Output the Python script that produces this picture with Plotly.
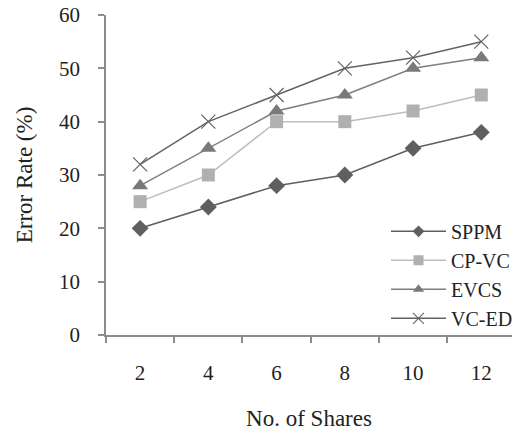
import plotly.graph_objects as go

shares = ["2", "4", "6", "8", "10", "12"]
sppm = [20, 24, 28, 30, 35, 38]
cpvc = [25, 30, 40, 40, 42, 45]
evcs = [28, 35, 42, 45, 50, 52]
vced = [32, 40, 45, 50, 52, 55]
y_ticks = [0, 10, 20, 30, 40, 50, 60]

FONT = "Liberation Serif, Times New Roman, serif"

series = [
    ("SPPM", sppm, "#5f5f5f", "#5f5f5f", "diamond", 13, 9),
    ("CP-VC", cpvc, "#bdbdbd", "#b0b0b0", "square", 13, 10),
    ("EVCS", evcs, "#7f7f7f", "#7a7a7a", "triangle-up", 14, 10),
    ("VC-ED", vced, "#636363", "#636363", "x-thin-open", 14, 11),
]

fig = go.Figure()
for name, vals, lc, mc, sym, size, lsize in series:
    mk = dict(symbol=sym, size=size, color=mc)
    lmk = dict(symbol=sym, size=lsize, color=mc)
    if sym == "x-thin-open":
        mk["line"] = dict(color=mc, width=1.2)
        lmk["line"] = dict(color=mc, width=1.1)
    fig.add_trace(go.Scatter(x=shares, y=vals, name=name, mode="lines+markers",
                             legendgroup=name, showlegend=False,
                             line=dict(color=lc, width=1.5), marker=mk))
    # legend entry with smaller symbol
    fig.add_trace(go.Scatter(x=[None], y=[None], name=name, mode="lines+markers",
                             legendgroup=name, showlegend=True,
                             line=dict(color=lc, width=1.5), marker=lmk))

fig.update_layout(
    width=518, height=431,
    margin=dict(l=106, r=0, t=15, b=96),
    paper_bgcolor="white", plot_bgcolor="white",
    font=dict(family=FONT, size=21, color="#222222"),
    showlegend=True,
    legend=dict(x=0.69, y=0.385, xanchor="left", yanchor="top",
                bgcolor="rgba(0,0,0,0)", font=dict(size=20),
                tracegroupgap=0, itemwidth=55),
    xaxis=dict(type="category", range=[-0.5, 5.45], showgrid=False,
               showline=True, linecolor="#8c8c8c", linewidth=1.5,
               ticks="outside", tickson="boundaries", ticklen=6,
               tickcolor="#8c8c8c", tickwidth=1.5,
               ticklabelstandoff=18,
               title=dict(text="No. of Shares", standoff=27,
                          font=dict(size=23))),
    yaxis=dict(range=[0, 60], tickvals=y_ticks, showgrid=False, zeroline=False,
               showline=True, linecolor="#8c8c8c", linewidth=1.5,
               ticks="outside", ticklen=6, tickcolor="#8c8c8c", tickwidth=1.5,
               ticklabelstandoff=14,
               title=dict(text="Error Rate (%)", standoff=20,
                          font=dict(size=23))),
)

fig.write_html("out.html")
